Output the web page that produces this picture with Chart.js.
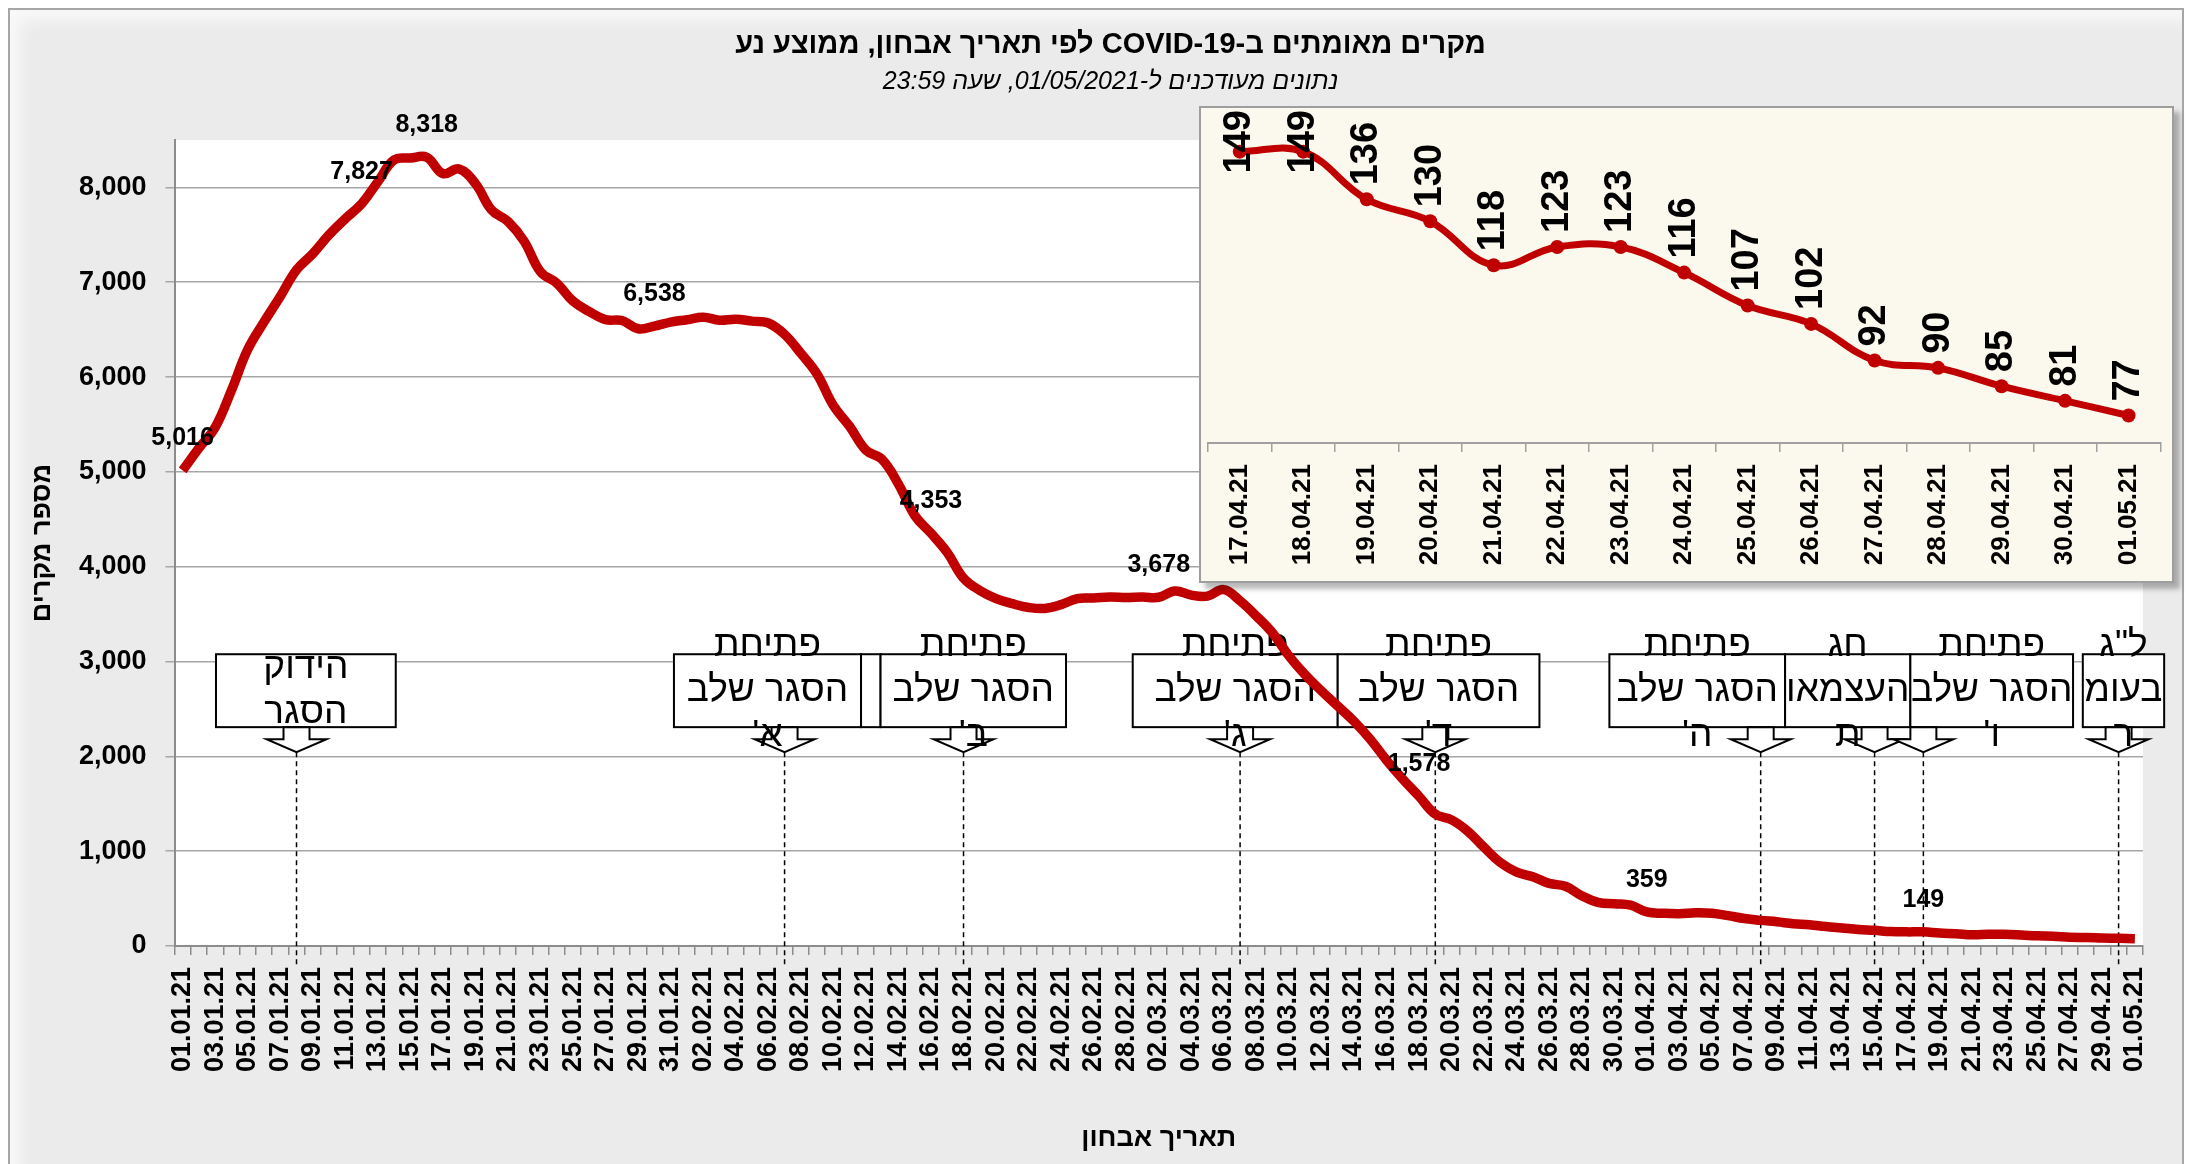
<!DOCTYPE html>
<html lang="he">
<head>
<meta charset="utf-8">
<title>מקרים מאומתים ב-COVID-19</title>
<script src="https://cdn.jsdelivr.net/npm/chart.js@4.4.1/dist/chart.umd.min.js"></script>
<style>
  body { margin: 0; background: #fff; }
  #wrap { position: relative; width: 2191px; height: 1164px; overflow: hidden; }
  #frame { position: absolute; left: 8px; top: 8px; width: 2172px; height: 1170px; background: #ebebeb;
           border: 2px solid #a6a6a6; box-shadow: inset 10px 10px 16px rgba(255,255,255,0.7); }
  #main { position: absolute; left: 0; top: 0; }
  #insetBox { position: absolute; left: 1199px; top: 106px; width: 971px; height: 473px; background: #fbf9ee;
              border: 2px solid #9e9e9e; box-shadow: 6px 6px 5px rgba(0,0,0,0.28); }
  #inset { display: block; }
</style>
</head>
<body>
<div id="wrap">
  <div id="frame"></div>
  <canvas id="main" width="2191" height="1164"></canvas>
  <div id="insetBox"><canvas id="inset" width="971" height="473"></canvas></div>
</div>
<script>
const titleText = 'מקרים מאומתים ב-COVID-19 לפי תאריך אבחון, ממוצע נע';
const subtitleText = 'נתונים מעודכנים ל-01/05/2021, שעה 23:59';
const yTitle = 'מספר מקרים';
const xTitle = 'תאריך אבחון';

// one category per day, 01.01.21 .. 01.05.21
const dates = [];
for (let d = new Date(Date.UTC(2021, 0, 1)); d <= new Date(Date.UTC(2021, 4, 1)); d.setUTCDate(d.getUTCDate() + 1)) {
  const dd = String(d.getUTCDate()).padStart(2, '0');
  const mm = String(d.getUTCMonth() + 1).padStart(2, '0');
  dates.push(dd + '.' + mm + '.21');
}

// 7 day moving average
const cases = [
  5016, 5250, 5470, 5860, 6290, 6580, 6850, 7130, 7300, 7500,
  7670, 7827, 8060, 8290, 8310, 8318, 8146, 8194, 8040, 7760,
  7640, 7430, 7110, 6990, 6800, 6690, 6605, 6596, 6510, 6538,
  6580, 6605, 6631, 6600, 6610, 6590, 6570, 6450, 6250, 6030,
  5700, 5480, 5230, 5130, 4870, 4540, 4353, 4150, 3880, 3750,
  3664, 3610, 3570, 3560, 3600, 3664, 3670, 3680, 3675, 3680,
  3678, 3744, 3700, 3690, 3758, 3640, 3480, 3300, 3060, 2860,
  2690, 2530, 2370, 2180, 1960, 1760, 1578, 1390, 1330, 1210,
  1040, 880, 780, 730, 660, 630, 530, 460, 445, 430,
  359, 345, 340, 350, 345, 320, 290, 270, 255, 235,
  225, 205, 190, 175, 165, 152, 149, 149, 136, 130,
  118, 123, 123, 116, 107, 102, 92, 90, 85, 81,
  77
];

const yTicks = [0, 1000, 2000, 3000, 4000, 5000, 6000, 7000, 8000];

// points that carry a value label on the big chart
const labelled = [0, 11, 15, 29, 46, 60, 76, 90, 107];

// inset: last 15 days
const insetDates = dates.slice(-15);
const insetCases = cases.slice(-15);

// event call-outs (box spans and arrow in category units)
const notes = [
  { lines: ['הידוק', 'הסגר'], from: 2.05, to: 13.1, at: 7 },
  { lines: ['פתיחת', 'הסגר שלב', "א'"], from: 30.2, to: 41.7, at: 37 },
  { lines: [], from: 41.7, to: 42.9 },
  { lines: ['פתיחת', 'הסגר שלב', "ב'"], from: 42.9, to: 54.3, at: 48 },
  { lines: ['פתיחת', 'הסגר שלב', "ג'"], from: 58.4, to: 71.0, at: 65 },
  { lines: ['פתיחת', 'הסגר שלב', "ד'"], from: 71.0, to: 83.4, at: 77 },
  { lines: ['פתיחת', 'הסגר שלב', "ה'"], from: 87.7, to: 98.5, at: 97 },
  { lines: ['חג', 'העצמאו', 'ת'], from: 98.5, to: 106.2, at: 104 },
  { lines: ['פתיחת', 'הסגר שלב', "ו'"], from: 106.2, to: 116.2, at: 107 },
  { lines: ['ל"ג', 'בעומ', 'ר'], from: 116.8, to: 121.8, at: 119 }
];

const RED = '#c00000';
const FONT = '"Liberation Sans", Arial, sans-serif';
Chart.defaults.font.family = FONT;
Chart.defaults.color = '#000';

const plotBg = {
  id: 'plotBg',
  beforeDraw(chart) {
    const { ctx, chartArea: a } = chart;
    ctx.save();
    ctx.fillStyle = '#fff';
    ctx.fillRect(a.left, a.top, a.right - a.left, a.bottom - a.top);
    ctx.restore();
  }
};

const header = {
  id: 'header',
  afterDraw(chart) {
    const ctx = chart.ctx;
    const cx = chart.width / 2 + 15;
    ctx.save();
    ctx.direction = 'rtl';
    ctx.textAlign = 'center';
    ctx.textBaseline = 'middle';
    ctx.fillStyle = '#000';
    ctx.font = 'bold 29px ' + FONT;
    ctx.fillText(titleText, cx, 45);
    ctx.font = 'italic 25px ' + FONT;
    ctx.fillText(subtitleText, cx, 82);
    ctx.restore();
  }
};

const callouts = {
  id: 'callouts',
  beforeDatasetsDraw(chart) {
    const { ctx } = chart;
    const xs = chart.scales.x, ys = chart.scales.y;
    const top = ys.getPixelForValue(3077), bottom = ys.getPixelForValue(2308);
    const neck = ys.getPixelForValue(2181), tip = ys.getPixelForValue(2044);
    const dashEnd = ys.getPixelForValue(-232);
    ctx.save();
    ctx.strokeStyle = '#000';
    ctx.lineWidth = 1.5;
    ctx.setLineDash([5, 4]);
    notes.forEach(n => {
      if (n.at == null) return;
      const x = xs.getPixelForValue(n.at);
      ctx.beginPath(); ctx.moveTo(x, tip); ctx.lineTo(x, dashEnd); ctx.stroke();
    });
    ctx.setLineDash([]);
    ctx.lineWidth = 2;
    notes.forEach(n => {
      const l = xs.getPixelForValue(n.from), r = xs.getPixelForValue(n.to);
      ctx.fillStyle = '#fff';
      ctx.fillRect(l, top, r - l, bottom - top);
      ctx.strokeRect(l, top, r - l, bottom - top);
    });
    notes.forEach(n => {
      if (n.at == null) return;
      const x = xs.getPixelForValue(n.at);
      ctx.beginPath();
      ctx.moveTo(x - 13, bottom); ctx.lineTo(x + 13, bottom); ctx.lineTo(x + 13, neck);
      ctx.lineTo(x + 30, neck); ctx.lineTo(x, tip); ctx.lineTo(x - 30, neck); ctx.lineTo(x - 13, neck);
      ctx.closePath();
      ctx.fillStyle = '#fff'; ctx.fill(); ctx.stroke();
    });
    ctx.fillStyle = '#000';
    ctx.font = '37px ' + FONT;
    ctx.direction = 'rtl';
    ctx.textAlign = 'center';
    ctx.textBaseline = 'middle';
    const mid = (top + bottom) / 2, lh = 45;
    notes.forEach(n => {
      const cx = (xs.getPixelForValue(n.from) + xs.getPixelForValue(n.to)) / 2;
      n.lines.forEach((t, k) => ctx.fillText(t, cx, mid + (k - (n.lines.length - 1) / 2) * lh));
    });
    ctx.restore();
  }
};

const peakLabels = {
  id: 'peakLabels',
  afterDatasetsDraw(chart) {
    const { ctx } = chart;
    const meta = chart.getDatasetMeta(0);
    ctx.save();
    ctx.font = 'bold 25px ' + FONT;
    ctx.fillStyle = '#000';
    ctx.textAlign = 'center';
    ctx.textBaseline = 'middle';
    labelled.forEach(i => {
      const p = meta.data[i];
      ctx.fillText(cases[i].toLocaleString('en-US'), p.x, p.y - 32);
    });
    ctx.restore();
  }
};

new Chart(document.getElementById('main'), {
  type: 'line',
  data: {
    labels: dates,
    datasets: [{ data: cases, borderColor: RED, borderWidth: 9.5, pointRadius: 0, tension: 0.4, fill: false }]
  },
  options: {
    responsive: false,
    animation: false,
    layout: { padding: { top: 140, left: 10, right: 48, bottom: 0 } },
    plugins: { legend: { display: false }, tooltip: { enabled: false } },
    scales: {
      x: {
        offset: true,
        grid: { offset: true, drawOnChartArea: false, tickLength: 9, color: '#8c8c8c', lineWidth: 1.5 },
        border: { color: '#8c8c8c', width: 2 },
        ticks: {
          autoSkip: false, minRotation: 90, maxRotation: 90, padding: 12,
          font: { size: 27, weight: 'bold' }, color: '#000',
          callback: (v, i) => (i % 2 === 0 ? dates[i] : '')
        },
        title: { display: true, text: xTitle, font: { size: 27, weight: 'bold' }, padding: { top: 0, bottom: 9 } },
        afterFit: s => { s.height = 218; }
      },
      y: {
        min: 0, max: 8500,
        afterBuildTicks: s => { s.ticks = yTicks.map(v => ({ value: v })); },
        grid: { color: '#a6a6a6', lineWidth: 1.5, tickLength: 9 },
        border: { color: '#8c8c8c', width: 2 },
        ticks: {
          padding: 19,
          font: { size: 27, weight: 'bold' }, color: '#000',
          callback: v => Number(v).toLocaleString('en-US')
        },
        title: { display: true, text: yTitle, font: { size: 27, weight: 'bold' }, padding: { top: 16, bottom: 0 } },
        afterFit: s => { s.width = 164.5; }
      }
    }
  },
  plugins: [plotBg, callouts, peakLabels, header]
});

const insetLabels = {
  id: 'insetLabels',
  afterDatasetsDraw(chart) {
    const { ctx } = chart;
    const meta = chart.getDatasetMeta(0);
    ctx.save();
    ctx.font = 'bold 38px ' + FONT;
    ctx.fillStyle = '#000';
    ctx.textAlign = 'left';
    ctx.textBaseline = 'middle';
    meta.data.forEach((p, i) => {
      const t = String(insetCases[i]);
      const w = ctx.measureText(t).width;
      let start = p.y - 14;
      if (start - w < 2) start = 2 + w;
      ctx.save();
      ctx.translate(p.x, start);
      ctx.rotate(-Math.PI / 2);
      ctx.fillText(t, 0, 0);
      ctx.restore();
    });
    ctx.restore();
  }
};

new Chart(document.getElementById('inset'), {
  type: 'line',
  data: {
    labels: insetDates,
    datasets: [{
      data: insetCases, borderColor: RED, borderWidth: 7, tension: 0.4, fill: false,
      pointRadius: 7, pointBackgroundColor: RED, pointBorderColor: RED, pointBorderWidth: 0
    }]
  },
  options: {
    responsive: false,
    animation: false,
    layout: { padding: 0 },
    plugins: { legend: { display: false }, tooltip: { enabled: false } },
    scales: {
      x: {
        offset: true,
        grid: { offset: true, drawOnChartArea: false, tickLength: 9, color: '#a0a0a0', lineWidth: 1.5 },
        border: { color: '#a0a0a0', width: 2 },
        ticks: { autoSkip: false, minRotation: 90, maxRotation: 90, padding: 12, font: { size: 26, weight: 'bold' }, color: '#000' },
        afterFit: s => { s.height = 138; }
      },
      y: { display: false, min: 69.5, max: 159 }
    }
  },
  plugins: [insetLabels]
});
</script>
</body>
</html>
